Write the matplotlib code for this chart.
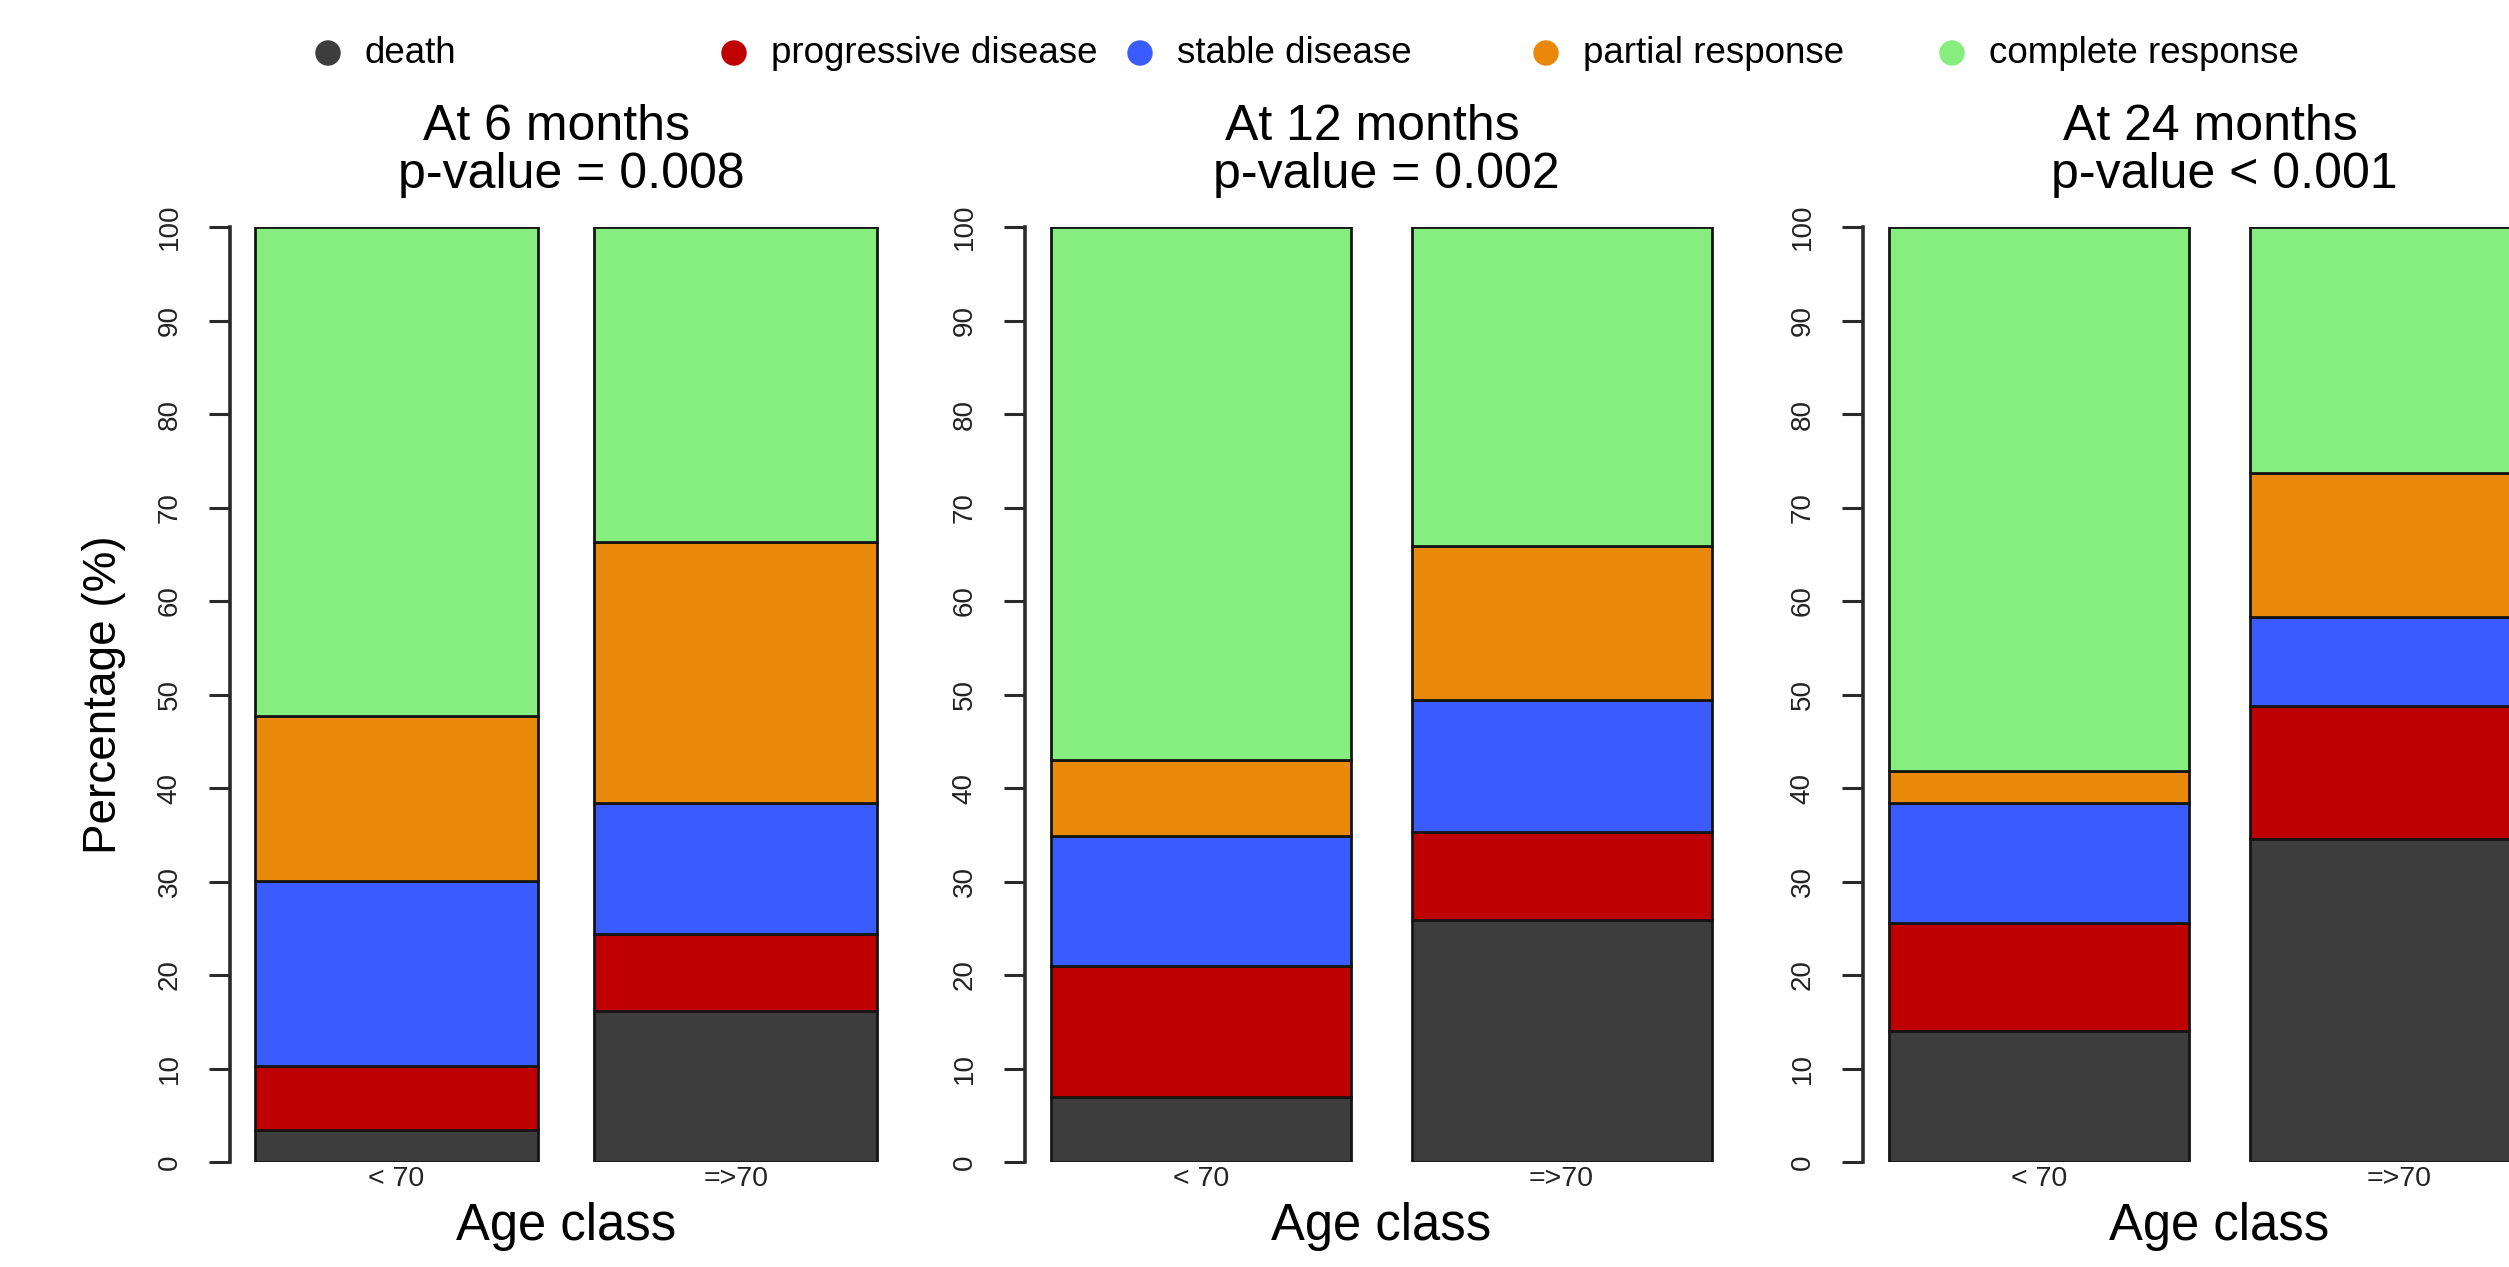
import numpy as np
import matplotlib
matplotlib.use("Agg")
import matplotlib.pyplot as plt

plt.rcParams['font.family'] = ['Liberation Sans', 'DejaVu Sans']

# dane: procenty w każdej klasie wieku
timepoints = ["At 6 months", "At 12 months", "At 24 months"]
pvalues = ["p-value = 0.008", "p-value = 0.002", "p-value < 0.001"]
age_classes = ["< 70", "=>70"]
categories = ["death", "progressive disease", "stable disease", "partial response", "complete response"]
colors = ["#3d3d3d", "#bf0000", "#3a5cff", "#e8890a", "#85ee7e"]

death = [[3.4, 16.2], [7.0, 25.9], [14.0, 34.5]]
progressive = [[6.9, 8.2], [14.0, 9.4], [11.6, 14.3]]
stable = [[19.8, 14.0], [13.9, 14.1], [12.8, 9.5]]
partial = [[17.6, 27.9], [8.1, 16.5], [3.4, 15.4]]
complete = [[52.3, 33.7], [57.0, 34.1], [58.2, 26.3]]
series = [death, progressive, stable, partial, complete]

W, H = 2509, 1267
fig = plt.figure(figsize=(W / 100, H / 100), dpi=100)

# położenie obszarów wykresu w pikselach (lewa krawędź, szerokość)
panels = [(230, 672), (1025, 713), (1863, 713)]
y_top, y_bot = 227, 1162
xpos = np.array([0.7, 1.9])

for k in range(3):
    left, width = panels[k]
    ax = fig.add_axes([left / W, (H - y_bot) / H, width / W, (y_bot - y_top) / H])
    bottom = np.zeros(2)
    for s in range(5):
        vals = np.array(series[s][k])
        ax.bar(xpos, vals, width=1.0, bottom=bottom, color=colors[s],
               edgecolor="#151515", linewidth=2.0)
        bottom += vals
    ax.set_xlim(0.112, 2.488)
    ax.set_ylim(0, 100)
    for sp in ["top", "right", "bottom"]:
        ax.spines[sp].set_visible(False)
    ax.spines["left"].set_linewidth(2.6)
    ax.spines["left"].set_color("#2a2a2a")
    ax.set_yticks(np.arange(0, 101, 10))
    ax.tick_params(axis="y", length=15, width=2.2, color="#2a2a2a", pad=19,
                   labelsize=20, labelcolor="#222222")
    for lab in ax.get_yticklabels():
        lab.set_rotation(90)
        lab.set_va("center")
    ax.set_xticks(xpos)
    ax.set_xticklabels(age_classes)
    ax.tick_params(axis="x", length=0, pad=3, labelsize=20.5, labelcolor="#222222")
    ax.text(0.5, -0.0695, "Age class", transform=ax.transAxes, ha="center",
            va="center", fontsize=36.5)
    ax.annotate(timepoints[k], xy=(0.5, 1.093), xycoords="axes fraction",
                xytext=(-6.5, 0), textcoords="offset points", ha="center",
                va="baseline", fontsize=36)
    ax.annotate(pvalues[k], xy=(0.5, 1.0417), xycoords="axes fraction",
                xytext=(3.6, 0), textcoords="offset points", ha="center",
                va="baseline", fontsize=36)
    if k == 0:
        ax.set_ylabel("Percentage (%)", fontsize=33, labelpad=22)

# legenda w jednym wierszu u góry
leg = fig.add_axes([328 / W, (H - 73) / H, (1952 - 328) / W, 40 / H])
leg.set_xlim(0, 4)
leg.set_ylim(-1, 1)
leg.axis("off")
idx = np.arange(5)
leg.scatter(idx, np.zeros(5), s=300, c=colors, clip_on=False)
for i in idx:
    leg.text(i + 0.091, -0.5, categories[i], ha="left", va="baseline",
             fontsize=26.5, clip_on=False)

fig.savefig("out.png", dpi=100)
